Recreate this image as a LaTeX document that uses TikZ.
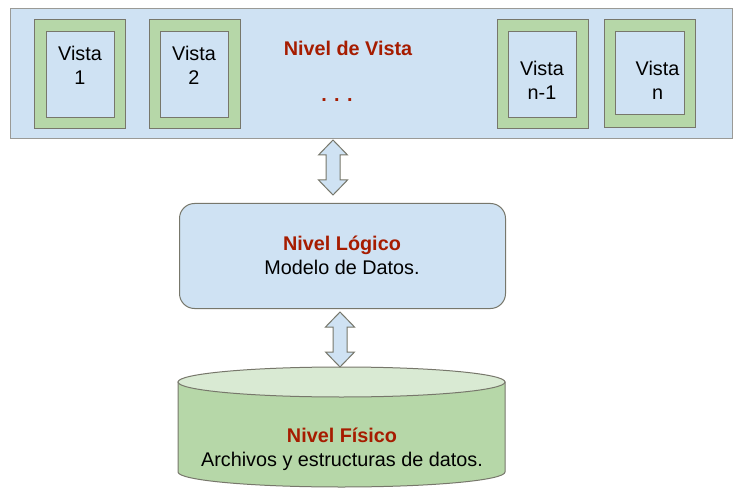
\documentclass[tikz,border=0pt]{standalone}
\usepackage{fontspec}
\setmainfont{Liberation Sans}
\usetikzlibrary{calc}
\definecolor{lblue}{HTML}{CFE2F3}
\definecolor{lgreen}{HTML}{B6D7A8}
\definecolor{llgreen}{HTML}{D9EAD3}
\definecolor{dred}{HTML}{A61C00}
\definecolor{edgegray}{HTML}{77776B}
\definecolor{framegray}{HTML}{9A9A96}
\newcommand\blockarrow[2]{%
  \draw[arr] (#1) -- ($(#1)+(14.5,15)$) -- ($(#1)+(7,15)$) -- ($(#2)+(7,-15)$) -- ($(#2)+(14.5,-15)$) -- (#2)
    -- ($(#2)+(-14.5,-15)$) -- ($(#2)+(-7,-15)$) -- ($(#1)+(-7,15)$) -- ($(#1)+(-14.5,15)$) -- cycle;}
\begin{document}
\begin{tikzpicture}[x=1pt,y=-1pt,
  txt/.style={font=\fontsize{19.8}{23.8}\selectfont, align=center, inner sep=0pt},
  dots/.style={font=\fontsize{19.8}{23.8}\selectfont\bfseries, text=dred, inner sep=0pt, anchor=base},
  ttl/.style={font=\fontsize{19.8}{23.8}\selectfont\bfseries, text=dred, inner sep=0pt},
  frame/.style={rectangle, draw=framegray, fill=lblue, line width=1pt, anchor=north west, inner sep=0pt},
  vout/.style={rectangle, draw=edgegray, fill=lgreen, line width=1pt, anchor=north west, inner sep=0pt},
  vin/.style={rectangle, draw=edgegray, fill=lblue, line width=1pt, anchor=north west, inner sep=0pt},
  blk/.style={rectangle, rounded corners=15pt, draw=edgegray, fill=lblue, line width=1pt, anchor=north west, inner sep=0pt},
  arr/.style={draw=edgegray, fill=lblue, line width=1pt, line join=miter},
  cyl/.style={draw=edgegray, fill=lgreen, line width=1pt},
  cyltop/.style={draw=edgegray, fill=llgreen, line width=1pt},
]
\useasboundingbox[fill=white] (0,0) rectangle (746,494);

% Nivel de Vista
\node[frame, minimum width=722pt, minimum height=130pt] (vista) at (10,8) {};
\node[vout, minimum width=91pt, minimum height=109pt] (v1o) at (34,19) {};
\node[vin, minimum width=68pt, minimum height=86pt] (v1i) at (46,31) {};
\node[txt] (v1t) at (80,65.5) {Vista\\1};
\node[vout, minimum width=91pt, minimum height=109pt] (v2o) at (149,19) {};
\node[vin, minimum width=68pt, minimum height=86pt] (v2i) at (160,31) {};
\node[txt] (v2t) at (194,65.5) {Vista\\2};
\node[vout, minimum width=91pt, minimum height=109pt] (vn1o) at (497,19) {};
\node[vin, minimum width=68pt, minimum height=86pt] (vn1i) at (508,31) {};
\node[txt] (vn1t) at (542,80) {Vista\\n-1};
\node[vout, minimum width=91pt, minimum height=108pt] (vno) at (604,19) {};
\node[vin, minimum width=69pt, minimum height=83pt] (vni) at (615,31) {};
\node[txt] (vnt) at (657.5,80) {Vista\\n};
\node[ttl] (vistat) at (348,48.5) {Nivel de Vista};
\node[dots] (dotst) at (337,102) {. . .};

% Nivel Logico
\node[blk, minimum width=326pt, minimum height=105pt] (log) at (179,203) {};
\node[txt] (logt) at (342,255) {\textcolor{dred}{\bfseries Nivel Lógico}\\Modelo de Datos.};

% Nivel Fisico (cylinder)
\draw[cyl] (178,382) -- (178,472) arc[start angle=180, end angle=360, x radius=163.5pt, y radius=15pt] -- (505,382) -- cycle;
\draw[cyltop] (341.5,382) ellipse [x radius=163.5pt, y radius=15pt];
\coordinate (fistop) at (341.5,367);
\node[txt] (fist) at (342,449.5) {\textcolor{dred}{\bfseries Nivel Físico}\\Archivos y estructuras de datos.};

% double arrows
\coordinate (a1t) at (333,140);
\coordinate (a1b) at (333,195);
\blockarrow{a1t}{a1b}
\coordinate (a2t) at (340,312);
\coordinate (a2b) at (340,367);
\blockarrow{a2t}{a2b}
\end{tikzpicture}
\end{document}
